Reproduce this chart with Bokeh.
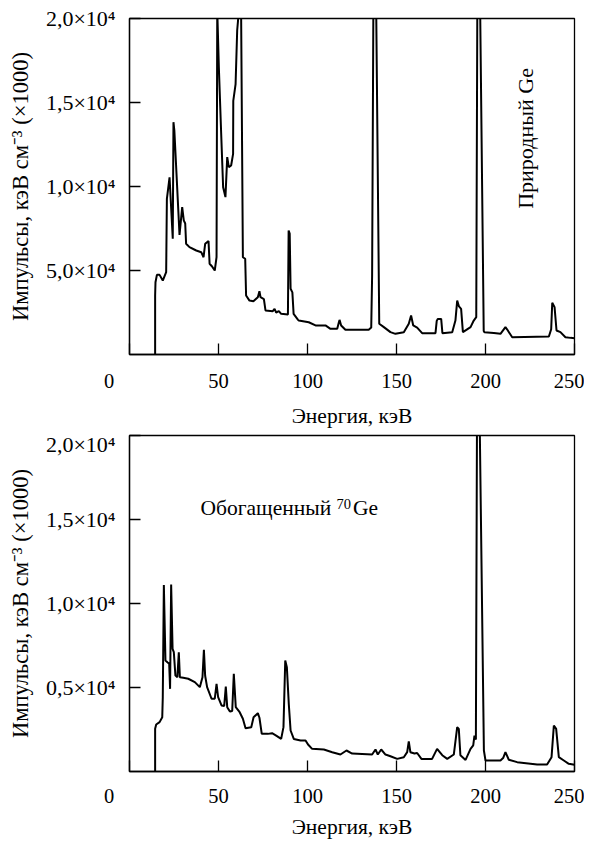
import math
from bokeh.plotting import figure
from bokeh.layouts import column
from bokeh.models import Label, FixedTicker, Range1d
from bokeh.embed import file_html
from bokeh.resources import INLINE

# ---- data ----
energy_nat = [14.4, 14.4, 14.6, 15.4, 16.9, 18.7, 20.6, 21.0, 22.5, 24.3, 24.7, 25.2, 28.1, 29.6,
              30.5, 31.3, 31.8, 33.7, 37.5, 40.3, 41.6, 42.5, 44.4, 45.0, 46.4, 47.9, 48.9, 49.3,
              50.2, 51.5, 52.6, 53.9, 54.9, 55.8, 57.1, 58.2, 58.3, 59.6, 60.5, 61.4, 62.7, 63.7,
              65.0, 65.5, 67.4, 69.6, 72.1, 73.0, 73.6, 75.5, 76.4, 80.5, 81.5, 82.4, 83.9, 85.2,
              89.0, 89.4, 90.0, 90.5, 91.5, 92.2, 94.6, 95.1, 100.7, 104.5, 110.1, 112.9, 116.7,
              117.6, 118.0, 118.9, 121.3, 134.4, 135.8, 136.3, 137.0, 138.6, 140.3, 142.9, 146.6,
              149.4, 154.1, 156.9, 158.2, 159.4, 161.6, 164.4, 171.9, 172.6, 173.2, 175.1, 175.8,
              181.3, 183.1, 184.1, 185.1, 186.3, 187.3, 191.6, 193.4, 194.8, 195.4, 197.0, 199.0,
              199.4, 204.7, 208.4, 211.2, 212.1, 215.0, 235.6, 236.9, 237.5, 238.8, 239.9, 242.1,
              244.9, 247.8, 250.0]
counts_nat = [0, 3510, 4300, 4740, 4740, 4400, 4900, 9270, 10550, 6890, 13830, 13330, 7120, 8770,
              7980, 7800, 6590, 6390, 6190, 6090, 5790, 6590, 6750, 5400, 5240, 5000, 5800, 20500,
              17100, 13150, 9960, 9370, 11750, 11150, 11250, 11940, 15100, 16100, 19300, 20400,
              20400, 5790, 5700, 3510, 3210, 3170, 3410, 3770, 3410, 3300, 2620, 2580, 2720, 2500,
              2580, 2420, 2380, 7380, 7200, 3910, 3700, 2420, 2080, 2020, 1920, 1730, 1730, 1530,
              1530, 1900, 2060, 1730, 1470, 1470, 1600, 4700, 20500, 20500, 1830, 1630, 1330,
              1230, 1330, 1830, 2320, 1730, 1600, 1270, 1270, 2000, 2120, 2120, 1270, 1330, 2020,
              3210, 2860, 2720, 1330, 1630, 2020, 2220, 20500, 20500, 1400, 1330, 1280, 1230,
              1630, 1500, 1030, 1070, 1500, 3080, 2820, 1430, 1330, 1030, 990, 970]

energy_enr = [14.4, 14.4, 15.0, 16.9, 18.4, 18.7, 19.3, 20.2, 21.3, 22.3, 22.8, 23.4, 24.2, 24.9,
              25.8, 26.9, 27.7, 28.3, 30.2, 33.0, 36.7, 39.5, 41.0, 41.8, 42.5, 43.6, 46.1, 47.9,
              48.9, 49.8, 51.7, 53.2, 54.1, 54.9, 56.4, 57.7, 58.6, 59.7, 61.9, 63.7, 65.2, 68.4,
              69.7, 72.1, 73.0, 74.3, 77.7, 80.1, 82.4, 85.2, 86.5, 87.5, 88.4, 89.5, 90.5, 92.3,
              96.1, 98.9, 100.3, 102.6, 109.2, 113.9, 118.5, 121.9, 125.1, 136.3, 138.2, 139.5,
              141.4, 143.8, 146.6, 150.4, 154.1, 156.0, 156.9, 157.8, 160.1, 161.6, 164.0, 170.0,
              172.8, 175.7, 178.5, 182.2, 184.1, 185.0, 185.9, 188.8, 191.6, 193.1, 193.8, 194.6,
              195.2, 196.8, 199.1, 200.0, 208.4, 209.9, 211.2, 213.1, 217.8, 229.0, 234.6, 237.1,
              238.4, 239.7, 241.2, 244.0, 246.8, 250.0]
counts_enr = [0, 2540, 2800, 2940, 3230, 4420, 11100, 6610, 6500, 6410, 4920, 11130, 7300, 7100,
              5710, 5620, 7100, 5610, 5580, 5520, 5320, 5020, 5610, 7240, 5700, 5020, 4330, 4330,
              5220, 4420, 3930, 3900, 5060, 3830, 3570, 3600, 5810, 3830, 3530, 3140, 2580, 2640,
              3230, 3470, 3200, 2240, 2240, 2280, 2140, 1940, 2640, 6610, 6210, 4000, 2440, 1940,
              1850, 1850, 1610, 1350, 1310, 1150, 1010, 1250, 1070, 1010, 1310, 1010, 1310, 1010,
              910, 750, 850, 1150, 1790, 1150, 1070, 1100, 750, 750, 1350, 970, 750, 1010, 2640,
              2540, 970, 690, 1350, 1550, 2140, 1900, 20300, 20300, 1250, 655, 655, 800, 1150, 700,
              556, 417, 417, 853, 2740, 2540, 853, 655, 456, 397]

x_ticks = [0, 50, 100, 150, 200, 250]
x_tick_labels = ["0", "50", "100", "150", "200", "250"]
y_ticks = [5000, 10000, 15000, 20000]
y_tick_labels_nat = ["5,0×10⁴", "1,0×10⁴", "1,5×10⁴", "2,0×10⁴"]
y_tick_labels_enr = ["0,5×10⁴", "1,0×10⁴", "1,5×10⁴", "2,0×10⁴"]

x_label = "Энергия, кэВ"
y_label = "Импульсы, кэВ см⁻³ (×1000)"
note_nat = "Природный Ge"
note_enr_parts = ["Обогащенный", "70", "Ge"]

FONT = "Liberation Serif"
X0, X1, Y0, Y1 = 0, 250, 0, 20000
FRAME_W, FRAME_H = 445, 336
LEFT, RIGHT = 129, 10


def make_fig(E, V, ylabels, top_border, bottom_border, tick_standoff, label_standoff):
    p = figure(width=LEFT + FRAME_W + RIGHT, height=top_border + FRAME_H + bottom_border,
               x_range=Range1d(X0, X1), y_range=Range1d(Y0, Y1),
               output_backend="svg", toolbar_location=None,
               min_border_left=LEFT, min_border_right=RIGHT, min_border_top=top_border,
               min_border_bottom=bottom_border)
    p.line(E, V, line_color="black", line_width=2)
    p.grid.visible = False
    p.outline_line_color = "black"
    p.outline_line_width = 1.3
    p.background_fill_color = "white"
    p.border_fill_color = "white"

    for ax in (p.xaxis[0], p.yaxis[0]):
        ax.major_tick_in = 11
        ax.major_tick_out = 0
        ax.minor_tick_line_color = None
        ax.axis_line_width = 1.3
        ax.major_tick_line_width = 1.3
        ax.major_label_text_font = FONT
        ax.major_label_text_color = "black"
        ax.axis_label_text_font = FONT
        ax.axis_label_text_font_style = "normal"
        ax.axis_label_text_color = "black"

    p.xaxis.ticker = FixedTicker(ticks=x_ticks)
    overrides = {t: l for t, l in zip(x_ticks, x_tick_labels)}
    # the "0" label sits left of the axis corner in the original: pad it with figure spaces
    overrides[x_ticks[0]] = x_tick_labels[0] + "\u2007" * 4
    p.xaxis.major_label_overrides = overrides
    p.xaxis.major_label_text_font_size = "20.5px"
    p.xaxis.major_label_standoff = tick_standoff
    p.xaxis.axis_label = x_label
    p.xaxis.axis_label_text_font_size = "21.5px"
    p.xaxis.axis_label_standoff = label_standoff

    p.yaxis.ticker = FixedTicker(ticks=y_ticks)
    p.yaxis.major_label_overrides = {t: l for t, l in zip(y_ticks, ylabels)}
    p.yaxis.major_label_text_font_size = "22px"
    p.yaxis.major_label_standoff = 14
    p.yaxis.axis_label = y_label
    p.yaxis.axis_label_text_font_size = "22.5px"
    p.yaxis.axis_label_standoff = 10
    return p


p1 = make_fig(energy_nat, counts_nat, y_tick_labels_nat, 18, 77, 15, 9)
p1.add_layout(Label(x=222.5, y=12860, text=note_nat, angle=math.pi / 2,
                    text_font=FONT, text_font_size="22px", text_align="center",
                    text_baseline="middle", text_color="black"))

p2 = make_fig(energy_enr, counts_enr, y_tick_labels_enr, 4, 72, 13, 5)
p2.add_layout(Label(x=39.9, y=15690, text=note_enr_parts[0],
                    text_font=FONT, text_font_size="21.5px", text_align="left",
                    text_baseline="alphabetic", text_color="black"))
p2.add_layout(Label(x=116.3, y=15930, text=note_enr_parts[1],
                    text_font=FONT, text_font_size="14.5px", text_align="left",
                    text_baseline="alphabetic", text_color="black"))
p2.add_layout(Label(x=125.5, y=15690, text=note_enr_parts[2],
                    text_font=FONT, text_font_size="21.5px", text_align="left",
                    text_baseline="alphabetic", text_color="black"))

layout = column(p1, p2, spacing=0)
open("out.html", "w").write(file_html(layout, INLINE))
